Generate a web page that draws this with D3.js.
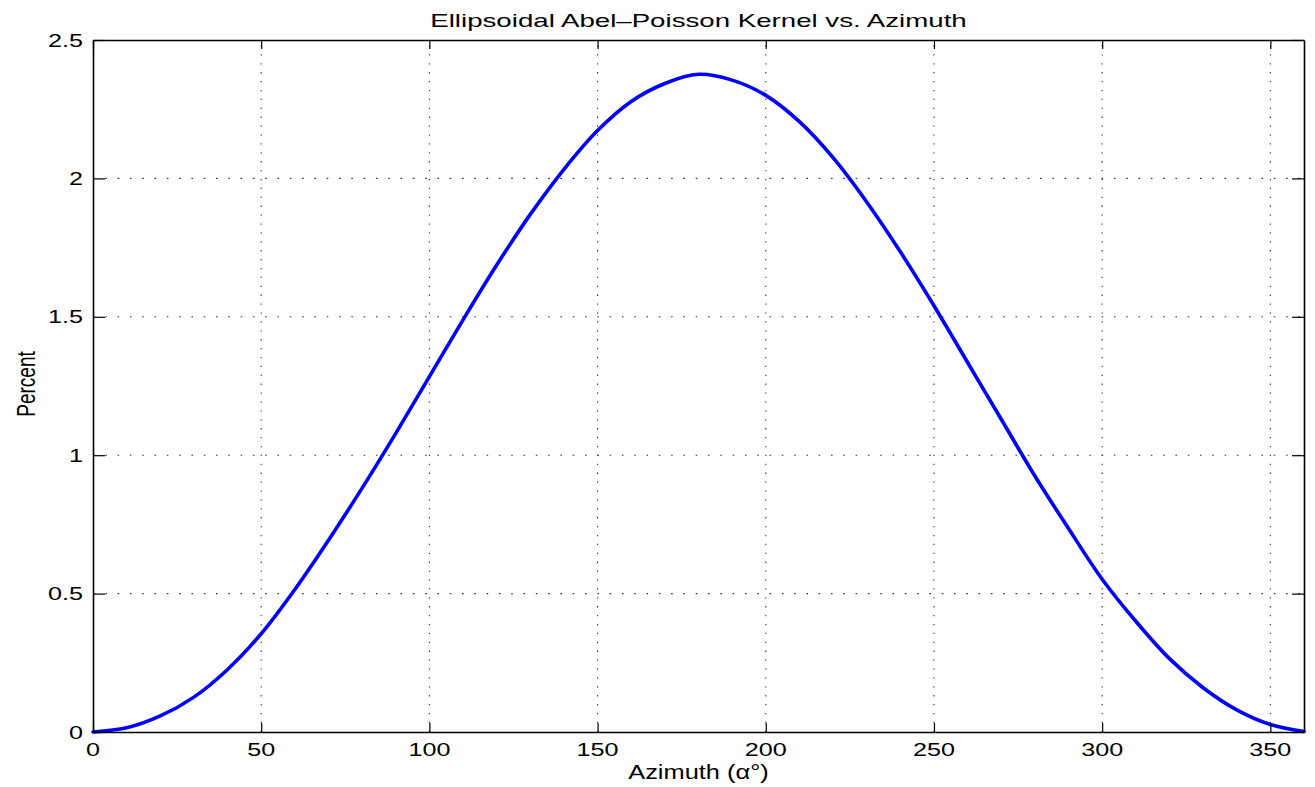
<!DOCTYPE html>
<html>
<head>
<meta charset="utf-8">
<script src="https://cdn.jsdelivr.net/npm/d3@7"></script>
<style>
  html, body { margin: 0; padding: 0; background: #fff; }
  svg { display: block; }
  text { font-family: "Liberation Sans", Arial, Helvetica, sans-serif; fill: #000; }
</style>
</head>
<body>
<svg id="chart" width="1315" height="787"></svg>
<script>
// ---- data ----
const azimuth = [0, 10, 20, 30, 40, 50, 60, 70, 80, 90, 100, 110, 120, 130, 140, 150, 160, 170, 180,
                 190, 200, 210, 220, 230, 240, 250, 260, 270, 280, 290, 300, 310, 320, 330, 340, 350, 360];
const percent = [0, 0.015, 0.058, 0.126, 0.226, 0.355, 0.515, 0.693, 0.881, 1.079, 1.284, 1.489, 1.687, 1.870, 2.033, 2.173, 2.278, 2.343, 2.376,
                 2.355, 2.300, 2.205, 2.075, 1.915, 1.735, 1.540, 1.335, 1.130, 0.925, 0.735, 0.552, 0.400, 0.265, 0.160, 0.080, 0.027, 0.002];
const xTicks = [0, 50, 100, 150, 200, 250, 300, 350];
const yTicks = [0, 0.5, 1, 1.5, 2, 2.5];
const titleText = "Ellipsoidal Abel\u2013Poisson Kernel vs. Azimuth";
const xLabelText = "Azimuth (\u03b1\u00b0)";
const yLabelText = "Percent";

(function () {
// ---- layout ----
const pL = 93, pR = 1304, pT = 40, pB = 732;
const SX = 1.4; // horizontal stretch of text seen in the reference

const svg = d3.select("#chart");
const x = d3.scaleLinear().domain([0, 360]).range([pL, pR]);
const y = d3.scaleLinear().domain([0, 2.5]).range([pB, pT]);

// grid
const grid = svg.append("g");
grid.selectAll("line.vg").data(xTicks.filter(d => d > 0)).enter().append("line")
  .attr("x1", d => x(d)).attr("x2", d => x(d)).attr("y1", pB).attr("y2", pT)
  .attr("stroke", "#333").attr("stroke-width", 1.1).attr("stroke-dasharray", "1.3,7.6");
grid.selectAll("line.hg").data(yTicks.filter(d => d > 0 && d < 2.5)).enter().append("line")
  .attr("x1", pL).attr("x2", pR).attr("y1", d => y(d)).attr("y2", d => y(d))
  .attr("stroke", "#333").attr("stroke-width", 1.1).attr("stroke-dasharray", "1.6,10.7");

// curve
const line = d3.line().x((d, i) => x(azimuth[i])).y(d => y(d)).curve(d3.curveCatmullRom.alpha(0.5));
svg.append("path").datum(percent)
  .attr("d", line).attr("fill", "none").attr("stroke", "#0000ff")
  .attr("stroke-width", 3.6).attr("stroke-linecap", "round");

// axes (box with inward ticks on all sides)
const axB = d3.axisBottom(x).tickValues(xTicks).tickSizeInner(-9).tickSizeOuter(0).tickFormat("");
const axT = d3.axisTop(x).tickValues(xTicks).tickSizeInner(-9).tickSizeOuter(0).tickFormat("");
const axL = d3.axisLeft(y).tickValues(yTicks).tickSizeInner(-12).tickSizeOuter(0).tickFormat("");
const axR = d3.axisRight(y).tickValues(yTicks).tickSizeInner(-12).tickSizeOuter(0).tickFormat("");
svg.append("g").attr("transform", `translate(0,${pB})`).call(axB);
svg.append("g").attr("transform", `translate(0,${pT})`).call(axT);
svg.append("g").attr("transform", `translate(${pL},0)`).call(axL);
svg.append("g").attr("transform", `translate(${pR},0)`).call(axR);
svg.selectAll(".domain").attr("stroke", "#000").attr("stroke-width", 1.6);
svg.selectAll(".tick line").attr("stroke", "#000").attr("stroke-width", 1.2);

// tick labels
const fmt = d => (d === 0 ? "0" : String(d));
svg.append("g").selectAll("text").data(xTicks).enter().append("text")
  .attr("transform", d => `translate(${x(d)},756) scale(${SX},1)`)
  .attr("text-anchor", "middle").attr("font-size", 18).text(fmt);
svg.append("g").selectAll("text").data(yTicks).enter().append("text")
  .attr("transform", d => `translate(83,${y(d) + 6.5}) scale(${SX},1)`)
  .attr("text-anchor", "end").attr("font-size", 18).text(fmt);

// labels
svg.append("text").attr("transform", `translate(${(pL + pR) / 2},27) scale(1.52,1)`)
  .attr("text-anchor", "middle").attr("font-size", 18.2).text(titleText);
svg.append("text").attr("transform", `translate(${(pL + pR) / 2},779) scale(1.27,1)`)
  .attr("text-anchor", "middle").attr("font-size", 20).text(xLabelText);
svg.append("text").attr("transform", `translate(35,384) scale(${SX},1) rotate(-90)`)
  .attr("text-anchor", "middle").attr("font-size", 19).text(yLabelText);
})();
</script>
</body>
</html>
